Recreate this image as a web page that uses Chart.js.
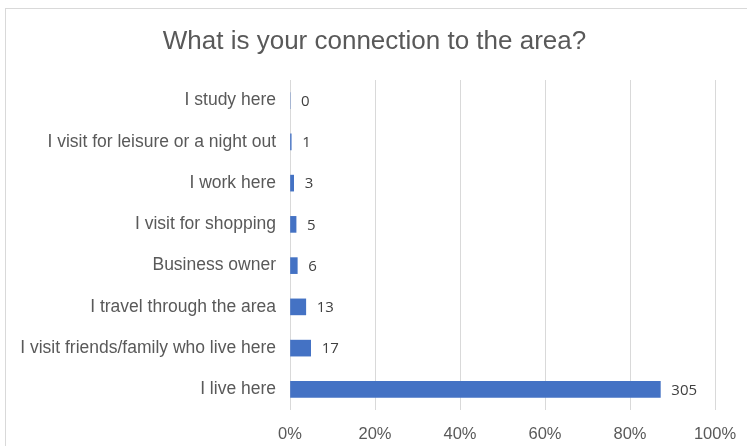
<!DOCTYPE html>
<html>
<head>
<meta charset="utf-8">
<script src="https://cdn.jsdelivr.net/npm/chart.js@4/dist/chart.umd.min.js"></script>
<style>
  html, body { margin: 0; padding: 0; background: #ffffff; }
  #wrap { position: relative; width: 747px; height: 446px; }
</style>
</head>
<body>
<div id="wrap"><canvas id="c" width="747" height="446"></canvas></div>
<script>
// Survey answers and how many respondents gave each
const categories = [
  "I study here",
  "I visit for leisure or a night out",
  "I work here",
  "I visit for shopping",
  "Business owner",
  "I travel through the area",
  "I visit friends/family who live here",
  "I live here"
];
const counts = [0, 1, 3, 5, 6, 13, 17, 305];
const axisTicks = [0, 20, 40, 60, 80, 100];
const titleText = "What is your connection to the area?";

// Bar lengths are each answer's share of all responses
const total = counts.reduce((a, b) => a + b, 0);
const shares = counts.map(n => n / total * 100);

const textColor = "#595959";
const gridColor = "#d9d9d9";
const sans = "'Liberation Sans', Arial, sans-serif";

// White background, outer frame and a title centred across the whole canvas
const framePlugin = {
  id: "frame",
  beforeDraw(chart) {
    const ctx = chart.ctx;
    ctx.save();
    ctx.fillStyle = "#ffffff";
    ctx.fillRect(0, 0, chart.width, chart.height);
    ctx.strokeStyle = gridColor;
    ctx.lineWidth = 1;
    ctx.strokeRect(5.5, 8.5, 800, 500);
    ctx.font = "26px " + sans;
    ctx.fillStyle = textColor;
    ctx.textAlign = "center";
    ctx.textBaseline = "middle";
    ctx.fillText(titleText, chart.width / 2 + 1, 42);
    ctx.restore();
  }
};

// Count printed just past the end of each bar
const countLabels = {
  id: "countLabels",
  afterDatasetsDraw(chart) {
    const ctx = chart.ctx;
    const meta = chart.getDatasetMeta(0);
    ctx.save();
    ctx.font = "15px 'Open Sans', sans-serif";
    ctx.fillStyle = "#404040";
    ctx.textAlign = "left";
    ctx.textBaseline = "middle";
    meta.data.forEach((bar, i) => {
      ctx.fillText(String(counts[i]), bar.x + 11, bar.y + 1);
    });
    ctx.restore();
  }
};

new Chart(document.getElementById("c"), {
  type: "bar",
  data: {
    labels: categories,
    datasets: [{
      data: shares,
      backgroundColor: "#4472c4",
      borderWidth: 0,
      barThickness: 16
    }]
  },
  options: {
    indexAxis: "y",
    responsive: false,
    animation: false,
    layout: { padding: { top: 80, right: 32, bottom: 0, left: 0 } },
    plugins: {
      legend: { display: false },
      tooltip: { enabled: false },
      title: { display: false }
    },
    scales: {
      x: {
        min: 0,
        max: 100,
        afterBuildTicks(scale) {
          scale.ticks = axisTicks.map(v => ({ value: v }));
        },
        afterFit(scale) {
          scale.height = 36;
          scale.paddingRight = 0;
        },
        grid: { color: gridColor, drawTicks: false, lineWidth: 1 },
        border: { display: false },
        ticks: {
          color: textColor,
          padding: 15,
          font: { family: sans, size: 16.5 },
          callback: v => v + "%"
        }
      },
      y: {
        afterFit(scale) { scale.width = 290; },
        grid: { display: false, drawTicks: false },
        border: { display: false },
        ticks: {
          color: textColor,
          padding: 14,
          font: { family: sans, size: 17.5 }
        }
      }
    }
  },
  plugins: [framePlugin, countLabels]
});
</script>
</body>
</html>
